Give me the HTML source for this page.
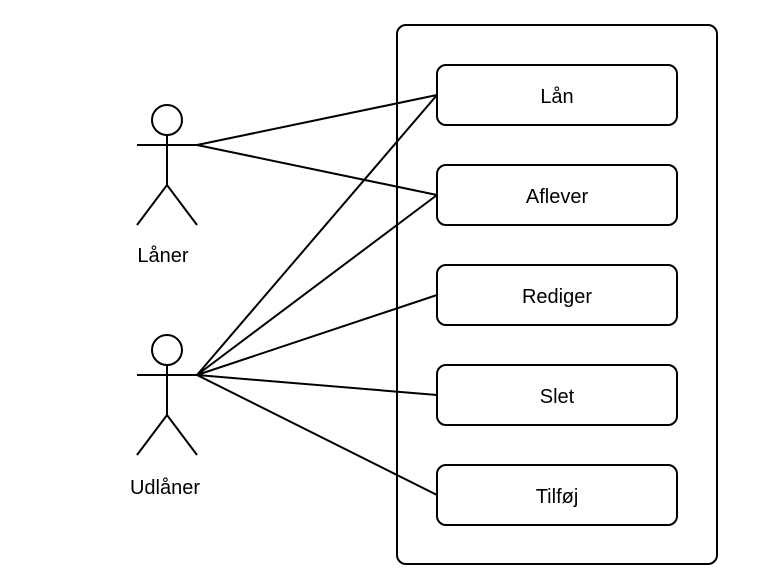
<!DOCTYPE html>
<html><head><style>
html,body{margin:0;padding:0;background:#fff;}
svg{display:block;font-family:"Liberation Sans",Helvetica,sans-serif;}
</style></head><body>
<svg width="762" height="584" viewBox="0 0 762 584" xmlns="http://www.w3.org/2000/svg">
<rect x="397" y="25" width="320" height="539" rx="9" fill="#fff" stroke="#000" stroke-width="2"/>
<g fill="#fff" stroke="#000" stroke-width="2">
<rect x="437" y="65" width="240" height="60" rx="9"/>
<rect x="437" y="165" width="240" height="60" rx="9"/>
<rect x="437" y="265" width="240" height="60" rx="9"/>
<rect x="437" y="365" width="240" height="60" rx="9"/>
<rect x="437" y="465" width="240" height="60" rx="9"/>
</g>
<g stroke="#000" stroke-width="2" fill="none">
<line x1="197" y1="145" x2="437" y2="95"/>
<line x1="197" y1="145" x2="437" y2="195"/>
<line x1="197" y1="375" x2="437" y2="95"/>
<line x1="197" y1="375" x2="437" y2="195"/>
<line x1="197" y1="375" x2="437" y2="295"/>
<line x1="197" y1="375" x2="437" y2="395"/>
<line x1="197" y1="375" x2="437" y2="495"/>
<circle cx="167" cy="120" r="15" fill="#fff"/>
<line x1="167" y1="135" x2="167" y2="185"/>
<line x1="137" y1="145" x2="197" y2="145"/>
<polyline points="137,225 167,185 197,225"/>
<circle cx="167" cy="350" r="15" fill="#fff"/>
<line x1="167" y1="365" x2="167" y2="415"/>
<line x1="137" y1="375" x2="197" y2="375"/>
<polyline points="137,455 167,415 197,455"/>
</g>
<g font-size="20" text-anchor="middle" fill="#000">
<text x="557" y="103">Lån</text>
<text x="557" y="203">Aflever</text>
<text x="557" y="303">Rediger</text>
<text x="557" y="403">Slet</text>
<text x="557" y="503">Tilføj</text>
<text x="163" y="262">Låner</text>
<text x="165" y="494">Udlåner</text>
</g>
</svg>
</body></html>
